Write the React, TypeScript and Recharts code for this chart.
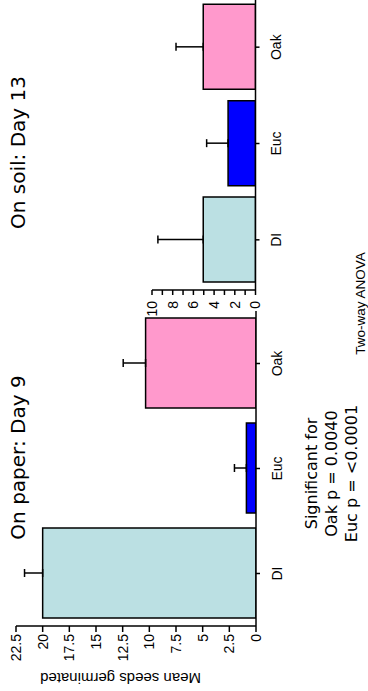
import { BarChart, Bar, XAxis, YAxis, ErrorBar, Cell } from 'recharts'

const categories = ['DI', 'Euc', 'Oak']
const paperMeans = [20, 0.9, 10.35]
const paperErrors = [1.7, 1.12, 2.1]
const soilMeans = [5.05, 2.65, 5.05]
const soilErrors = [4.38, 2.07, 2.63]
const barColors = ['#bbe0e3', '#0000ff', '#ff99cc']
const paperTicks = [0, 2.5, 5, 7.5, 10, 12.5, 15, 17.5, 20, 22.5]
const soilTicks = [0, 1, 2, 3, 4, 5, 6, 7, 8, 9, 10]
const sigLines = ['Significant for', 'Oak p = 0.0040', 'Euc p = <0.0001']

const axisFont = { fontSize: 14, fill: '#000', fontFamily: 'Liberation Sans, Arial, sans-serif' }
const axisLine = { stroke: '#000', strokeWidth: 1.5 }
const tickLine = { stroke: '#000', strokeWidth: 1.5 }

// build chart rows from the arrays
const makeRows = (means: number[], errs: number[]) =>
  categories.map((name, i) => ({ name, value: means[i], err: [0, errs[i]] }))

const paperData = makeRows(paperMeans, paperErrors)
const soilData = makeRows(soilMeans, soilErrors)

function Panel({ data, ticks, domain, barSize, yWidth, width, top, bottom, padLeft, tickSize, tickMargin, fmt }: any) {
  return (
    <BarChart
      width={width}
      height={300}
      data={data}
      margin={{ top, right: 0, left: 0, bottom }}
      barCategoryGap={0}
    >
      <XAxis
        dataKey="name"
        height={30}
        interval={0}
        tick={axisFont}
        tickSize={4}
        tickMargin={12}
        axisLine={axisLine}
        tickLine={tickLine}
        padding={{ left: padLeft, right: 0 }}
      />
      <YAxis
        width={yWidth}
        domain={domain}
        ticks={ticks}
        interval={0}
        tick={axisFont}
        tickSize={tickSize}
        tickMargin={tickMargin}
        tickFormatter={fmt}
        axisLine={axisLine}
        tickLine={tickLine}
        allowDataOverflow
      />
      <Bar dataKey="value" barSize={barSize} stroke="#000" strokeWidth={1.5} isAnimationActive={false}>
        {data.map((_: any, i: number) => (
          <Cell key={`c-${i}`} fill={barColors[i]} />
        ))}
        <ErrorBar dataKey="err" width={4} stroke="#000" strokeWidth={1.5} direction="y" isAnimationActive={false} />
      </Bar>
    </BarChart>
  )
}

export default function App() {
  return (
    <div
      style={{
        position: 'absolute',
        left: 0,
        top: 0,
        width: 691,
        height: 368,
        overflow: 'hidden',
        background: '#fff',
        transformOrigin: '0 0',
        transform: 'translateY(691px) rotate(-90deg)',
      }}
    >
      <div style={{ position: 'absolute', left: 0, top: 0 }}>
        <Panel
          data={paperData}
          ticks={paperTicks}
          domain={[0, 22.5]}
          barSize={90}
          yWidth={65}
          width={380}
          top={16}
          bottom={14}
          padLeft={0}
          tickSize={6}
          tickMargin={2}
          fmt={(v: number) => String(v)}
        />
      </div>
      <div style={{ position: 'absolute', left: 300, top: 0 }}>
        <Panel
          data={soilData}
          ticks={soilTicks}
          domain={[0, 10]}
          barSize={85}
          yWidth={101}
          width={392}
          top={152}
          bottom={14.5}
          padLeft={2}
          tickSize={5}
          tickMargin={6}
          fmt={(v: number) => (v % 2 === 0 ? String(v) : '')}
        />
      </div>
      <svg
        width={691}
        height={368}
        style={{ position: 'absolute', left: 0, top: 0, pointerEvents: 'none' }}
      >
        <g fontFamily="DejaVu Sans, Verdana, sans-serif" fill="#000">
          <text x={233.5} y={25} fontSize={20} textAnchor="middle">On paper: Day 9</text>
          <text x={538.5} y={25} fontSize={20} textAnchor="middle">On soil: Day 13</text>
          {sigLines.map((s, i) => (
            <text key={s} x={217.5} y={316.5 + i * 20} fontSize={16} textAnchor="middle">
              {s}
            </text>
          ))}
        </g>
        <text
          transform="translate(18.5,120.5) rotate(-90)"
          textAnchor="middle"
          fontSize={15}
          fontFamily="Liberation Sans, Arial, sans-serif"
        >
          Mean seeds germinated
        </text>
        <text x={387.5} y={365} fontSize={13.5} textAnchor="middle" fontFamily="Liberation Sans, Arial, sans-serif">
          Two-way ANOVA
        </text>
      </svg>
    </div>
  )
}
